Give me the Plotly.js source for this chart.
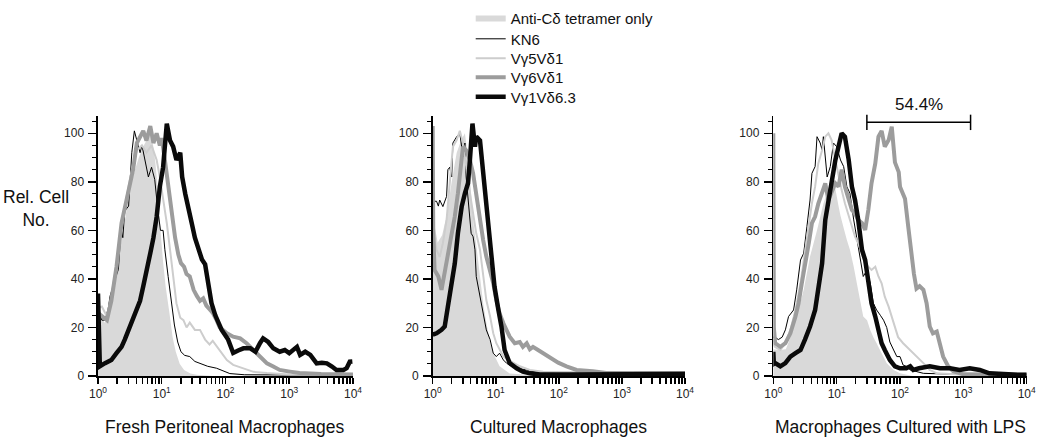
<!DOCTYPE html>
<html><head><meta charset="utf-8">
<script src="https://cdn.plot.ly/plotly-3.0.1.min.js"></script>
<style>html,body{margin:0;padding:0;background:#fff}#chart{width:1050px;height:447px}</style>
</head><body><div id="chart"></div>
<script>
// ---------- DATA (fluorescence intensity, relative cell number) ----------
const seriesNames = ['Anti-C\u03b4 tetramer only', 'KN6', 'V\u03b35V\u03b41', 'V\u03b36V\u03b41', 'V\u03b31V\u03b46.3'];
const panelTitles = ['Fresh Peritoneal Macrophages', 'Cultured Macrophages', 'Macrophages Cultured with LPS'];
const xTickVals = [1,2,3,4,5,6,7,8,9,10,20,30,40,50,60,70,80,90,100,200,300,400,500,600,700,800,900,1000,2000,3000,4000,5000,6000,7000,8000,9000,10000];
const xTickText = ['10<sup>0</sup>','','','','','','','','','10<sup>1</sup>','','','','','','','','','10<sup>2</sup>','','','','','','','','','10<sup>3</sup>','','','','','','','','','10<sup>4</sup>'];
const gateX = [30, 1300];
const gateLevel = 104.5;
const gateLabel = '54.4%';

// Panel 1: Fresh peritoneal macrophages
const p1AntiX = [1,1.07,1.15,1.26,1.38,1.55,1.74,1.86,2.09,2.34,2.63,3.02,3.39,3.8,4.37,5.01,5.75,6.61,7.24,7.94,8.71,9.55,10.5,11.5,13.2,14.8,16.6,19.1,22.4,28.2,35.5,63.1];
const p1AntiY = [28,27,24,22,22.5,27,35,40,48,56,64,73,80,85,90,94,97,100,96,88,76,60,47,37,26,16,10,5,2.5,1,0.5,0];
const p1Kn6X = [1,1.05,1.15,1.29,1.45,1.55,1.86,2.09,2.24,2.34,2.45,2.63,3.02,3.16,3.39,3.72,4.07,4.57,4.9,5.5,6.17,6.92,7.76,8.71,9.55,10.5,11.2,12.6,14.1,15.8,17.8,20,22.9,27.5,33.1,39.8,52.5,72.4,91.2,117,200,1000,10000];
const p1Kn6Y = [30,26,23,23,28,33,40,44,56,60,57,68,70,78,92,101,97,92,95,89,82,86,81,68,60,60,52,41,30,21,14,10,8.5,8,6,5.3,4,3.2,2,1,0.5,0.3,0.3];
const p1G5X = [1,1.15,1.38,1.62,1.95,2.34,2.82,3.39,4.07,4.9,5.75,6.92,8.32,9.33,10.5,12,13.5,15.1,17,19.5,21.9,24.5,27.5,33.1,39.8,47.9,56.2,63.1,81.3,105,132,191,275,447,1000,10000];
const p1G5Y = [28,28.6,24.5,33,46,61,74,85,93,95,92,95,89,82,73,63,52,40,30,24,23,20,22,19,19,15,13,14.5,10.7,6.6,4.6,3.2,1.7,1.2,0.6,0.4];
const p1G6X = [1,1.15,1.38,1.62,1.95,2.34,2.82,3.16,3.55,4.07,4.57,5.13,5.75,6.61,7.41,8.32,9.33,10,11.2,12.6,14.5,16.2,18.2,20,22.4,24.5,27.5,31.6,35.5,39.8,44.7,50.1,56.2,63.1,72.4,81.3,95.5,105,132,170,214,275,347,447,562,708,1020,1450,3160,10000];
const p1G6Y = [26,24.5,23,31,45,63,73,78,85,96,99,101,97,103,96,100,95,98,89,78,66,57,50,46.5,45,42,41,35.5,33,31,32,29,27.5,26,23,20,18.5,17.6,16.2,15.5,13.5,10.7,8,5.2,3.9,2.5,1.8,1.2,0.8,0.6];
const p1G1X = [1,1.07,1.29,1.62,1.95,2.34,2.63,3.02,3.39,3.8,4.57,5.13,5.75,6.61,7.41,8.32,9.33,10.5,12,13.5,15.1,17,19.5,20.9,23.4,26.3,29.5,33.1,37.2,42.7,47.9,53.7,60.3,69.2,87.1,110,132,158,191,245,295,347,389,468,562,708,851,1000,1320,1480,1780,2140,2690,3240,3890,4680,5500,7080,7940,8910,9770];
const p1G1Y = [34,4,5.3,6.6,9.4,12,15,19,22,26,31,37,44,50.6,57,65.6,78,86,104,97,94.5,89,92,82,75,68,63,57,53,48,46,38,30,25,19,15,9.5,10.5,11.4,11.4,10,13.5,15.5,14,11.4,10,10.7,9.4,12,8.7,10,8.7,5.2,5.5,5.2,3.9,2.5,2.5,3.2,5.9,6];

// Panel 2: Cultured macrophages
const p2AntiX = [1,1.07,1.2,1.41,1.66,2,2.4,2.82,3.24,3.63,3.98,4.47,5.01,5.62,6.31,7.08,7.94,9.12,11.5,16.6,31.6,63.1];
const p2AntiY = [80,62,55,58,66,80,92,97,100,90,78,62,52,41,30,22,15,9.4,4,1,0.5,0];
const p2Kn6X = [1,1.15,1.23,1.29,1.45,1.66,1.74,1.86,2,2.09,2.4,2.69,3.02,3.24,3.39,3.63,3.89,4.07,4.37,4.68,4.9,5.62,6.31,7.08,8.13,9.12,10.2,11.5,13.2,14.8,17.8,21.4,30.9,50.1,100,1000,10000];
const p2Kn6Y = [72,72,70,72.5,69.8,74,85,86,82,96,98.6,100,90.4,96,82,74,67,58.8,57.4,52,41,32.7,24.5,19,15,9.4,8,9.4,6.6,5.3,4,3.2,2.5,1.1,1.5,1.5,1.5];
const p2G5X = [1,1.15,1.29,1.45,1.66,1.86,2.09,2.4,2.69,3.02,3.39,3.89,4.37,4.9,5.62,6.31,7.08,8.13,9.12,10.2,11.5,13.2,15.8,19.1,24,34.7,56.2,158,10000];
const p2G5Y = [60,52,49,54.7,64.3,78,94.5,97.2,101,96,86,75.3,67,58.8,52,41,31.3,24.5,17.6,13.5,10.7,8,6.6,5.3,4,2.5,1.8,1.5,1.5];
const p2G6X = [1,1.02,1.07,1.23,1.38,1.55,1.74,2,2.24,2.51,2.88,3.02,3.39,3.89,4.37,4.9,5.62,6.31,7.08,8.13,9.12,10.2,11.5,13.2,14.8,16.6,20,24,26.9,30.9,34.7,38.9,46.8,56.2,67.6,81.3,97.7,132,191,347,562,1580,10000];
const p2G6Y = [103,60,43.7,41,35.5,42.3,50.6,58.8,65.7,75.3,89,94.5,93,89,83.5,74,64.3,56,49.2,43.7,38.2,31.3,25.8,21.7,19,16.2,13.5,14,12,13.5,11,12,10.7,9.4,8,6.6,5.5,4,2.5,2,1.2,1.2,1.2];
const p2G1X = [1,1.15,1.38,1.55,1.74,2,2.24,2.51,2.88,3.24,3.63,3.89,4.27,4.68,4.9,5.62,5.89,6.76,7.59,8.51,9.55,11,12.3,13.8,16.6,21.4,26.9,34.7,50.1,158,1000,10000];
const p2G1Y = [17,17.6,19,20.4,28.6,38.2,46.4,58.8,69.8,75.3,79.4,89,104,94.5,98.6,97,91.7,75.3,64.3,49.2,36.8,27.2,20.4,10.7,5.3,3.2,1.8,1.1,0.6,0.6,0.8,0.8];

// Panel 3: Macrophages cultured with LPS
const p3AntiX = [1,1.26,1.58,1.86,2.34,3.02,3.8,4.9,6.17,7.41,8.51,9.55,10.7,11.5,12.9,14.5,16.2,18.6,20.9,23.4,26.3,30.2,33.9,38,42.7,51.3,61.7,79.4,100,158];
const p3AntiY = [11,10.7,11,16,24.5,35.5,49.2,60,71,77,80,77,70,66,61,56,52,45,38,31.3,24.5,23,19,16,13.5,9.4,5.3,2.5,1.1,0];
const p3Kn6X = [1,1.07,1.2,1.38,1.55,1.74,2.09,2.34,2.69,3.02,3.39,3.8,4.07,4.57,4.9,5.5,5.89,6.17,7.08,7.94,8.91,10,11.5,12.9,14.5,16.2,18.6,20.9,23.4,26.3,30.2,33.9,38,42.7,49,55,61.7,69.2,79.4,89.1,100,112,126,145,234,1000,10000];
const p3Kn6Y = [16,16,15,16,19,24.5,27.2,35.5,47.8,50.6,61.5,72.5,83.5,86.3,98.6,96,93.1,98.6,82,86.3,96,94.5,89,86.3,78,75.3,64.3,56,49.2,41,43.7,38.2,30,27.2,25,23,20,14,10.7,8,8,4.5,4,2.5,1.1,0.6,0.5];
const p3G5X = [1,1.07,1.29,1.55,1.86,2.24,2.69,3.16,3.63,4.07,4.57,5.13,5.89,6.61,7.41,8.32,9.55,10.7,12,13.5,15.5,17.4,19.5,21.9,25.1,28.2,31.6,35.5,40.7,45.7,51.3,57.5,66.1,74.1,83.2,93.3,112,145,182,234,295,380,1000,10000];
const p3G5Y = [13,12,10.7,13.5,19,27.2,38.2,50.6,61.5,71.2,78,87.6,93,98.6,100,97.2,89,82,76.6,71.2,65.7,61.5,57.4,54.7,50.6,46.4,45,43.7,45,41,38.2,32.7,28.6,24.5,20.4,16,13.5,10.7,8,5.3,2.5,1.1,0.5,0.5];
const p3G6X = [1,1.02,1.07,1.29,1.55,1.86,2.24,2.51,2.82,3.16,3.63,4.07,4.57,5.13,5.89,6.61,7.41,8.32,9.55,10.7,12,13.5,15.5,17.4,19.5,21.9,25.1,28.2,31.6,35.5,40.7,45.7,51.3,57.5,66.1,74.1,83.2,89.1,95.5,100,112,120,135,151,166,182,204,234,263,295,331,380,427,479,575,692,1000,3160,10000];
const p3G6Y = [100,20,13.5,12,13.5,17.6,24.5,30,38.2,45,54.7,63,65.7,71,75.3,79.4,72.5,75.3,79.4,78,85,78,72.5,68.4,67,64.3,63,60.2,68.4,79.4,87.6,98.6,101,94.5,97.2,102.7,88,86,84,78,75,73,61.5,50,42,36,37,35.5,30,20.4,17.6,18.3,13.5,8,4,2,0.7,0.5,0.5];
const p3G1X = [1,1.02,1.07,1.29,1.55,1.86,2.24,2.69,3.16,3.8,4.57,5.13,5.89,6.61,7.41,8.32,9.55,10.7,12,13.5,15.5,17.4,19.5,21.9,25.1,28.2,31.6,35.5,40.7,45.7,51.3,57.5,69.2,83.2,100,126,145,162,200,295,427,617,871,1260,1820,2570,3720,7590,10000];
const p3G1Y = [10,5,5.3,4,5.3,8,9.4,10.7,15,20.4,27.2,35.5,46.4,64.3,72.5,78,89,94.5,100,98.6,89,78,72.5,64.3,52,47.8,38.2,30,24.5,19,13.5,10.7,6.6,4,3.2,3.2,4,2.5,3.2,4,3.2,3.2,2.5,3.2,2.5,1.1,0.8,0.5,0.5];

// ---------- STYLES ----------
const FONT = '"Liberation Sans", Arial, Helvetica, sans-serif';
const seriesStyles = [
  {fill: true, color: '#d9d9d9'},
  {color: '#000000', width: 1},
  {color: '#cdcdcd', width: 2},
  {color: '#9c9c9c', width: 4},
  {color: '#0a0a0a', width: 4.5}
];
const panels = [
  {xs: [p1AntiX, p1Kn6X, p1G5X, p1G6X, p1G1X], ys: [p1AntiY, p1Kn6Y, p1G5Y, p1G6Y, p1G1Y]},
  {xs: [p2AntiX, p2Kn6X, p2G5X, p2G6X, p2G1X], ys: [p2AntiY, p2Kn6Y, p2G5Y, p2G6Y, p2G1Y]},
  {xs: [p3AntiX, p3Kn6X, p3G5X, p3G6X, p3G1X], ys: [p3AntiY, p3Kn6Y, p3G5Y, p3G6Y, p3G1Y]}
];
const xDomains = [[0.09333, 0.33619], [0.41210, 0.65238], [0.73648, 0.97781]];
const yDomain = [0.15884, 0.73982];
const legendCenters = [18.5, 38.8, 58.2, 77.3, 96.7]; // px from top

const traces = [];
panels.forEach((p, pi) => {
  const xa = pi === 0 ? 'x' : 'x' + (pi + 1);
  const ya = pi === 0 ? 'y' : 'y' + (pi + 1);
  seriesNames.forEach((name, si) => {
    const st = seriesStyles[si];
    const t = {
      type: 'scatter', x: p.xs[si], y: p.ys[si], xaxis: xa, yaxis: ya,
      name: name, showlegend: pi === 0,
      legend: si === 0 ? 'legend' : 'legend' + (si + 1),
      hoverinfo: 'skip'
    };
    if (st.fill) {
      t.mode = 'none'; t.fill = 'tozeroy'; t.fillcolor = st.color;
    } else {
      t.mode = 'lines'; t.line = {color: st.color, width: st.width};
    }
    traces.push(t);
  });
});
// gate marker on panel 3
traces.push({
  type: 'scatter', x: gateX, y: [gateLevel, gateLevel], xaxis: 'x3', yaxis: 'y3',
  mode: 'lines+markers', line: {color: '#000', width: 1.5},
  marker: {symbol: 'line-ns', size: 11, line: {color: '#000', width: 1.5}},
  cliponaxis: false, showlegend: false, hoverinfo: 'skip'
});

const layout = {
  width: 1050, height: 447,
  margin: {l: 0, r: 0, t: 0, b: 0},
  paper_bgcolor: '#fff', plot_bgcolor: '#fff',
  font: {family: FONT, color: '#111'},
  annotations: []
};
panels.forEach((p, pi) => {
  const sfx = pi === 0 ? '' : String(pi + 1);
  layout['xaxis' + sfx] = {
    domain: xDomains[pi], anchor: 'y' + sfx, type: 'log', range: [0, 4],
    tickmode: 'array', tickvals: xTickVals, ticktext: xTickText,
    ticks: 'outside', ticklen: 6, tickwidth: 1.5, tickcolor: '#000',
    showline: true, linecolor: '#000', linewidth: 2,
    showgrid: false, zeroline: false,
    tickfont: {family: FONT, size: 12, color: '#222'},
    fixedrange: true
  };
  layout['yaxis' + sfx] = {
    domain: yDomain, anchor: 'x' + sfx, range: [0, 107],
    tickmode: 'linear', tick0: 0, dtick: 20,
    ticks: 'outside', ticklen: 8, tickwidth: 1.5, tickcolor: '#000',
    showline: true, linecolor: '#000', linewidth: 1.5,
    showgrid: false, zeroline: false,
    tickfont: {family: FONT, size: 12, color: '#222'},
    ticklabelstandoff: 2,
    minor: {ticks: 'outside', ticklen: 4, tickwidth: 1, tickcolor: '#000', dtick: 5, showgrid: false},
    fixedrange: true
  };
  layout.annotations.push({
    text: panelTitles[pi], xref: 'x' + sfx + ' domain', x: 0.5, yref: 'paper', y: 20 / 447,
    xanchor: 'center', yanchor: 'middle', showarrow: false,
    font: {family: FONT, size: 17.5, color: '#111'}
  });
});
layout.annotations.push({
  text: 'Rel. Cell<br>No.', xref: 'paper', x: 36 / 1050, yref: 'paper', y: 1 - 209 / 447,
  xanchor: 'center', yanchor: 'middle', showarrow: false, align: 'center',
  font: {family: FONT, size: 17.5, color: '#111'}
});
layout.annotations.push({
  text: gateLabel, xref: 'x3', x: Math.log10(Math.sqrt(gateX[0] * gateX[1])),
  yref: 'y3', y: gateLevel, yanchor: 'bottom', yshift: 6, showarrow: false,
  font: {family: FONT, size: 17, color: '#111'}
});
seriesNames.forEach((n, si) => {
  const key = si === 0 ? 'legend' : 'legend' + (si + 1);
  layout[key] = {
    x: 470.7 / 1050, xanchor: 'left', y: 1 - (legendCenters[si] - 16.25) / 447, yanchor: 'top',
    bgcolor: 'rgba(0,0,0,0)', borderwidth: 0, itemwidth: 30,
    font: {family: FONT, size: 15, color: '#111'}
  };
});

Plotly.newPlot('chart', traces, layout, {staticPlot: true, displayModeBar: false});
</script></body></html>
